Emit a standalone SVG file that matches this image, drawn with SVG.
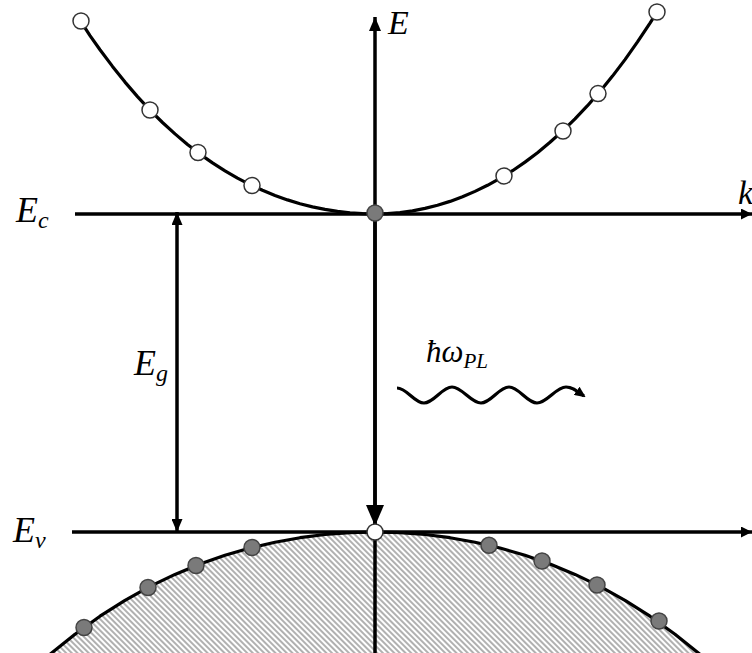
<svg xmlns="http://www.w3.org/2000/svg" width="752" height="653" viewBox="0 0 752 653">
  <style>
    .ln { fill: none; stroke: #000; stroke-width: 3.5; }
    .crv { fill: none; stroke: #000; stroke-width: 3.2; stroke-linejoin: round; }
    .wave { fill: none; stroke: #000; stroke-width: 3.2; }
    .eo { fill: #fff; stroke: #333; stroke-width: 1.5; }
    .ef { fill: #7a7a7a; stroke: #444; stroke-width: 1.5; }
    .lbl { font-family: "Liberation Serif", "DejaVu Serif", serif; font-style: italic; fill: #000; }
  </style>
  <defs>
    <pattern id="hatch" patternUnits="userSpaceOnUse" width="4" height="4" patternTransform="rotate(-45)">
      <rect width="4" height="4" fill="#fff"/>
      <line x1="1" y1="0" x2="1" y2="4" stroke="#a8a8a8" stroke-width="1.8"/>
    </pattern>
    <marker id="ahTop" markerUnits="userSpaceOnUse" markerWidth="14" markerHeight="12" refX="14" refY="6" orient="auto">
      <path d="M0,0 L14,6 L0,12 Z" fill="#000"/>
    </marker>
    <marker id="ahBig" markerUnits="userSpaceOnUse" markerWidth="21" markerHeight="18" refX="21" refY="9" orient="auto">
      <path d="M0,0 L21,9 L0,18 Z" fill="#000"/>
    </marker>
    <marker id="ahGap" markerUnits="userSpaceOnUse" markerWidth="13" markerHeight="11" refX="13" refY="5.5" orient="auto-start-reverse">
      <path d="M0,0 L13,5.5 L0,11 Z" fill="#000"/>
    </marker>
    <marker id="ahAxis" markerUnits="userSpaceOnUse" markerWidth="11" markerHeight="11" refX="11" refY="5.5" orient="auto">
      <path d="M0,0 L11,5.5 L0,11 Z" fill="#000"/>
    </marker>
    <marker id="ahWave" markerUnits="userSpaceOnUse" markerWidth="11" markerHeight="10" refX="9" refY="5" orient="auto">
      <path d="M0,0 L11,5 L0,10 Z" fill="#000"/>
    </marker>
  </defs>

  <rect width="752" height="653" fill="#fff"/>

  <!-- valence band hatched region -->
  <g id="valence-band">
    <path d="M50,654.3 L75,634.2 L100,616.2 L125,600.4 L150,586.4 L175,574.4 L200,564 L225,555.3 L250,548 L275,542.2 L300,537.7 L325,534.5 L350,532.6 L375,532 L400,532.6 L425,534.5 L450,537.7 L475,542.2 L500,548 L525,555.3 L550,564 L575,574.4 L600,586.4 L625,600.4 L650,616.2 L675,634.2 L700,654.3 L700,660 L50,660 Z" fill="url(#hatch)" stroke="none"/>
    <path class="crv" d="M50,654.3 L75,634.2 L100,616.2 L125,600.4 L150,586.4 L175,574.4 L200,564 L225,555.3 L250,548 L275,542.2 L300,537.7 L325,534.5 L350,532.6 L375,532 L400,532.6 L425,534.5 L450,537.7 L475,542.2 L500,548 L525,555.3 L550,564 L575,574.4 L600,586.4 L625,600.4 L650,616.2 L675,634.2 L700,654.3"/>
  </g>

  <!-- conduction band curve -->
  <g id="conduction-band">
    <path class="crv" d="M375,214 L362.5,213.7 L350,212.9 L337.5,211.4 L325,209.4 L312.5,206.9 L300,203.7 L287.5,199.9 L275,195.4 L262.5,190.3 L250,184.6 L237.5,178.1 L225,170.8 L212.5,162.9 L200,154.1 L187.5,144.5 L175,133.9 L162.5,122.5 L150,110.1 L137.5,96.6 L125,82.1 L112.5,66.4 L100,49.7 L90,35.6 L80,20.2"/>
    <path class="crv" d="M375,214 L387.5,213.7 L400,212.6 L412.5,210.9 L425,208.4 L437.5,205.3 L450,201.4 L462.5,196.8 L475,191.4 L487.5,185.3 L500,178.4 L512.5,170.7 L525,162.1 L537.5,152.7 L550,142.3 L562.5,131.1 L575,118.9 L587.5,105.7 L600,91.4 L612.5,76.1 L625,59.6 L637.5,41.9 L650,23.1 L657,12"/>
  </g>

  <!-- connectors / axes -->
  <g id="connectors">
    <path class="ln" d="M75,214 L752,214" marker-end="url(#ahAxis)"/>
    <path class="ln" d="M72,532 L752,532" marker-end="url(#ahAxis)"/>
    <path class="ln" d="M375,653 L375,17" marker-end="url(#ahTop)"/>
    <path class="ln" d="M375,214 L375,526" marker-end="url(#ahBig)"/>
    <path class="ln" d="M177,212 L177,532" marker-start="url(#ahGap)" marker-end="url(#ahGap)"/>
    <path class="wave" d="M397,388 C407,388 414,403 424,403 C434,403 442,387 452,387 C462,387 471,403 481,403 C491,403 499,387 509,387 C519,387 527,403 537,403 C547,403 556,387 566,387 C572,387 577,391 584,396" marker-end="url(#ahWave)"/>
  </g>

  <!-- electrons (open circles) -->
  <g id="electrons">
    <circle class="eo" cx="81" cy="21" r="8"/>
    <circle class="eo" cx="150" cy="110" r="8"/>
    <circle class="eo" cx="198" cy="152.5" r="8"/>
    <circle class="eo" cx="252" cy="185.5" r="8"/>
    <circle class="eo" cx="504" cy="176" r="8"/>
    <circle class="eo" cx="563" cy="131" r="8"/>
    <circle class="eo" cx="598" cy="93.6" r="8"/>
    <circle class="eo" cx="657" cy="12" r="8"/>
    <circle class="ef" cx="375" cy="213" r="8"/>
  </g>

  <!-- valence electrons (filled circles) -->
  <g id="holes">
    <circle class="ef" cx="84" cy="627.5" r="8"/>
    <circle class="ef" cx="148" cy="587.5" r="8"/>
    <circle class="ef" cx="196" cy="565.5" r="8"/>
    <circle class="ef" cx="252" cy="547.5" r="8"/>
    <circle class="ef" cx="489" cy="545.3" r="8"/>
    <circle class="ef" cx="542" cy="561" r="8"/>
    <circle class="ef" cx="597" cy="585" r="8"/>
    <circle class="ef" cx="659" cy="621" r="8"/>
    <circle class="eo" cx="375" cy="532" r="8"/>
  </g>

  <!-- labels -->
  <g id="labels">
    <text class="lbl" x="388" y="34" font-size="34">E</text>
    <text class="lbl" x="738" y="204" font-size="34">k</text>
    <text class="lbl" x="16" y="222" font-size="36">E<tspan font-size="24" dy="6">c</tspan></text>
    <text class="lbl" x="134" y="375" font-size="36">E<tspan font-size="24" dy="6">g</tspan></text>
    <text class="lbl" x="13" y="542" font-size="36">E<tspan font-size="24" dy="6">v</tspan></text>
    <text class="lbl" x="426" y="362" font-size="31">ħω<tspan font-size="21" dy="6">PL</tspan></text>
  </g>
</svg>
